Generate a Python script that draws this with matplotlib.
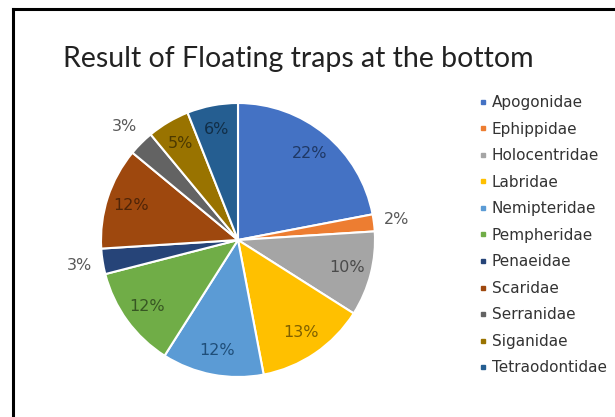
import matplotlib
matplotlib.use("Agg")
import matplotlib.pyplot as plt
from matplotlib.lines import Line2D
import numpy as np

families = ["Apogonidae", "Ephippidae", "Holocentridae", "Labridae", "Nemipteridae",
            "Pempheridae", "Penaeidae", "Scaridae", "Serranidae", "Siganidae", "Tetraodontidae"]
shares = [22, 2, 10, 13, 12, 12, 3, 12, 3, 5, 6]
slice_colors = ["#4472C4", "#ED7D31", "#A5A5A5", "#FFC000", "#5B9BD5", "#70AD47",
                "#264478", "#9E480E", "#636363", "#997300", "#255E91"]
label_colors = ["#1F3864", "#595959", "#4A4A4A", "#7F6000", "#1F4E79", "#375623",
                "#595959", "#4F2407", "#595959", "#4C3900", "#112E47"]
outside = [False, True, False, False, False, False, True, False, True, False, False]

W, H = 615, 417
fig = plt.figure(figsize=(W / 100, H / 100), dpi=100)
fig.patch.set_facecolor("white")

# frame (left and top edges visible)
fig.add_artist(Line2D([12.5 / W, 12.5 / W], [0, 1 - 8.5 / H], transform=fig.transFigure,
                      color="black", lw=2.2, solid_capstyle="projecting"))
fig.add_artist(Line2D([12.5 / W, 1], [1 - 8.5 / H, 1 - 8.5 / H], transform=fig.transFigure,
                      color="black", lw=2.2, solid_capstyle="projecting"))

fig.text(298 / W, 1 - 67 / H, "Result of Floating traps at the bottom", ha="center", va="baseline",
         fontsize=20.5, family="Lato", color="#222222")

cx, cy, r = 238, 240, 137
ax = fig.add_axes([(cx - r) / W, (H - cy - r) / H, 2 * r / W, 2 * r / H])
wedges, _ = ax.pie(shares, colors=slice_colors, startangle=90, counterclock=False,
                   wedgeprops=dict(edgecolor="white", linewidth=1.5))
ax.set_xlim(-1, 1)
ax.set_ylim(-1, 1)
ax.axis("off")

total = sum(shares)
start = 0.0
for val, col, out in zip(shares, label_colors, outside):
    mid = (start + val / 2) / total * 2 * np.pi
    start += val
    d = 1.17 if out else 0.82
    ax.text(d * np.sin(mid), d * np.cos(mid), f"{val}%", ha="center", va="center",
            fontsize=11.5, family="DejaVu Sans", color=col)

handles = [Line2D([], [], marker="s", linestyle="none", markersize=3.5, color=c) for c in slice_colors]
fig.legend(handles, families, loc="upper left", bbox_to_anchor=(472 / W, 1 - 87.5 / H),
           frameon=False, handlelength=0.45, handletextpad=0.35, labelspacing=0.755,
           prop=dict(family="DejaVu Sans", size=11), labelcolor="#333333", borderpad=0)

fig.savefig("out.png", dpi=100, facecolor="white")
